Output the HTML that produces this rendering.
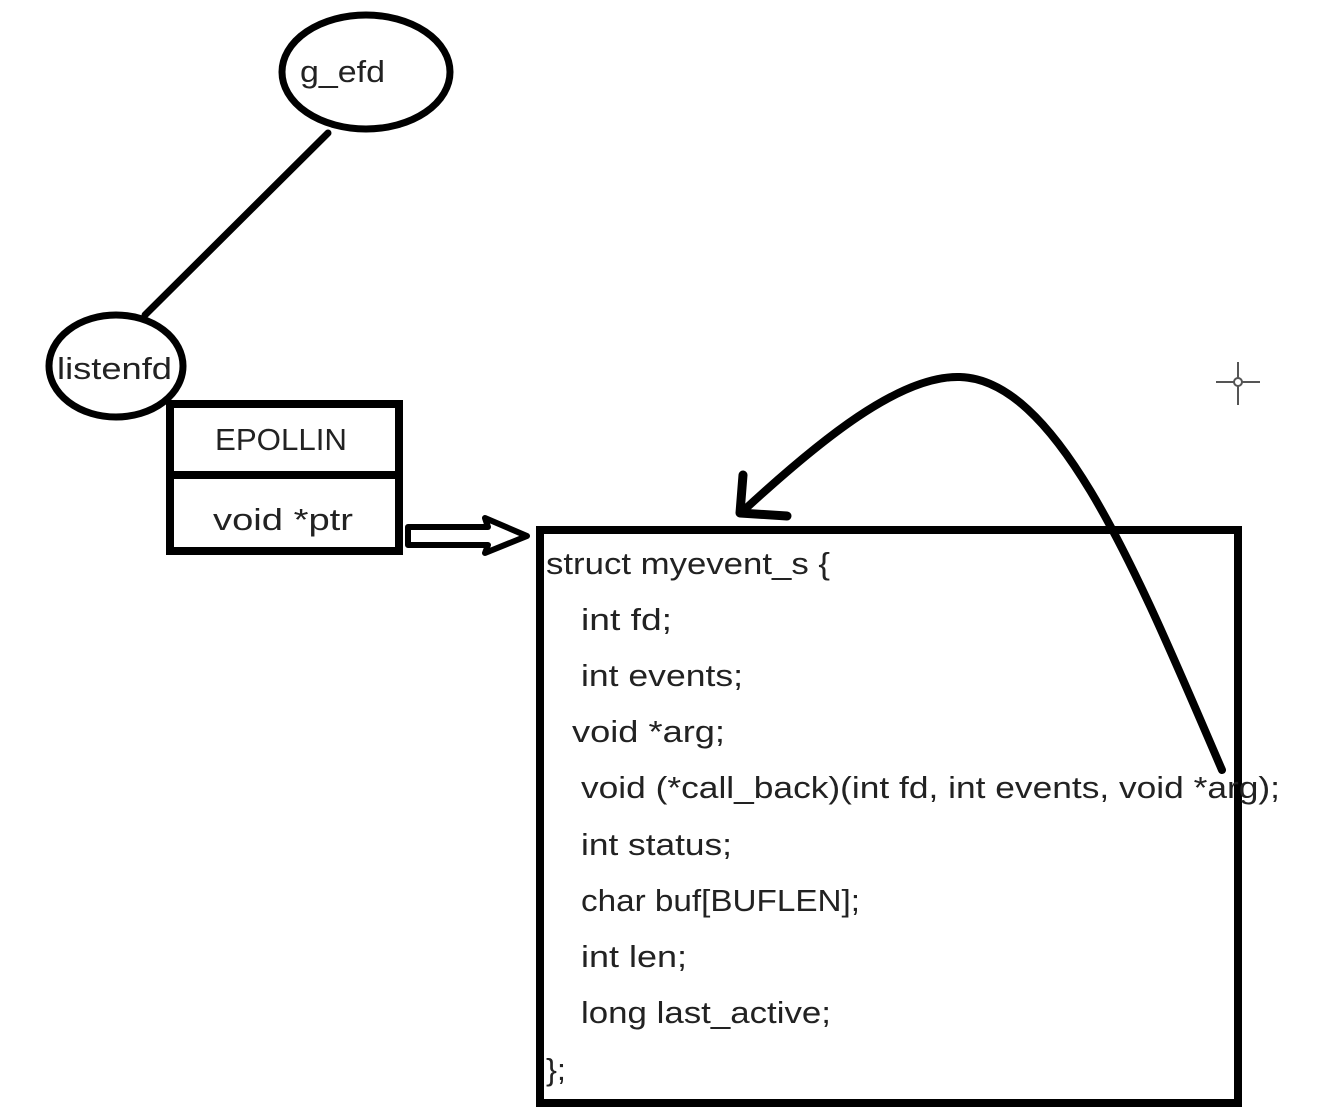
<!DOCTYPE html>
<html><head><meta charset="utf-8"><style>
html,body{margin:0;padding:0;background:#fff}
svg{display:block}
text{font-family:"Liberation Sans",sans-serif;fill:#222}
</style></head><body>
<svg width="1344" height="1114" viewBox="0 0 1344 1114">
<g fill="none" stroke="#000" stroke-linecap="round" stroke-linejoin="round">
<ellipse cx="366" cy="72" rx="84" ry="57" stroke-width="7"/>
<line x1="328" y1="133" x2="145" y2="315" stroke-width="7"/>
<ellipse cx="116" cy="366" rx="67" ry="51" stroke-width="7"/>
<rect x="170" y="404" width="229" height="147" stroke-width="8" stroke-linecap="butt" stroke-linejoin="miter"/>
<line x1="170" y1="475" x2="399" y2="475" stroke-width="8"/>
<path d="M408 527 L488 527 L485 518 L527 536 L485 553 L488 545 L408 545 Z" stroke-width="6"/>
<rect x="540" y="530" width="698" height="573" stroke-width="8" stroke-linecap="butt" stroke-linejoin="miter"/>
</g>
<g stroke="#555" stroke-width="2">
<line x1="1216" y1="382" x2="1260" y2="382"/><line x1="1238" y1="362" x2="1238" y2="405"/>
<circle cx="1238" cy="382" r="4" fill="#fff"/>
</g>
<g font-size="31">
<text x="300" y="82" textLength="85" lengthAdjust="spacingAndGlyphs">g_efd</text>
<text x="57" y="379" textLength="115" lengthAdjust="spacingAndGlyphs">listenfd</text>
<text x="215" y="450" textLength="132" lengthAdjust="spacingAndGlyphs">EPOLLIN</text>
<text x="213" y="530" textLength="140" lengthAdjust="spacingAndGlyphs">void *ptr</text>
<text x="546" y="574" textLength="284" lengthAdjust="spacingAndGlyphs">struct myevent_s {</text>
<text x="581" y="630" textLength="91" lengthAdjust="spacingAndGlyphs">int fd;</text>
<text x="581" y="686" textLength="162" lengthAdjust="spacingAndGlyphs">int events;</text>
<text x="572" y="742" textLength="153" lengthAdjust="spacingAndGlyphs">void *arg;</text>
<text x="581" y="798" textLength="699" lengthAdjust="spacingAndGlyphs">void (*call_back)(int fd, int events, void *arg);</text>
<text x="581" y="855" textLength="151" lengthAdjust="spacingAndGlyphs">int status;</text>
<text x="581" y="911" textLength="279" lengthAdjust="spacingAndGlyphs">char buf[BUFLEN];</text>
<text x="581" y="967" textLength="106" lengthAdjust="spacingAndGlyphs">int len;</text>
<text x="581" y="1023" textLength="250" lengthAdjust="spacingAndGlyphs">long last_active;</text>
<text x="546" y="1080" textLength="20" lengthAdjust="spacingAndGlyphs">};</text>
</g>
<g fill="none" stroke="#000" stroke-linecap="round" stroke-linejoin="round">
<path d="M1222 770 C1140 580 1060 380 960 377 C900 375 820 440 742 512" stroke-width="8"/>
<path d="M743 475 L740 513 L787 516" stroke-width="9"/>
</g>
</svg>
</body></html>
